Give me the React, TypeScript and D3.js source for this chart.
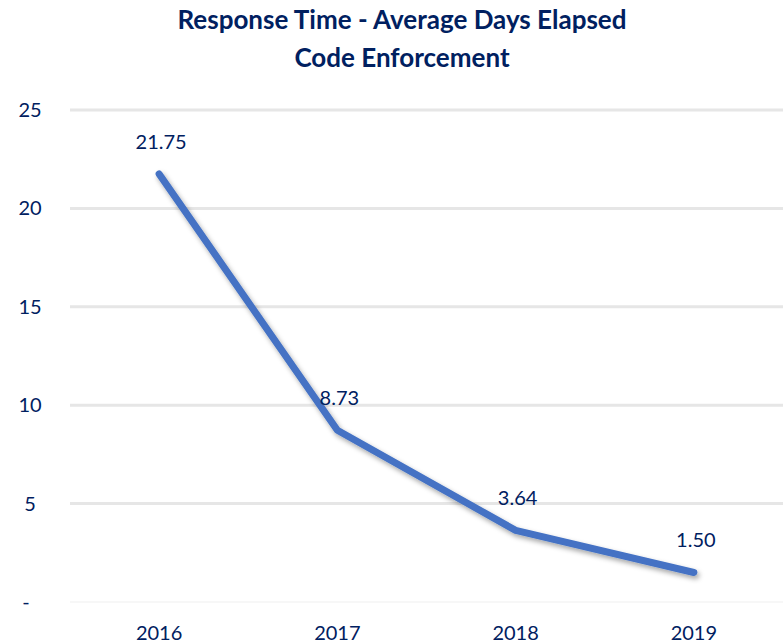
import React from "react";
import * as d3 from "d3";

const years = ["2016", "2017", "2018", "2019"];
const values = [21.75, 8.73, 3.64, 1.5];
const valueLabels = ["21.75", "8.73", "3.64", "1.50"];
const yTicks = [0, 5, 10, 15, 20, 25];
const titleLines = ["Response Time - Average Days Elapsed", "Code Enforcement"];

export default function App() {
  const W = 783, H = 643;
  const left = 70, right = 783, top = 110, bottom = 602;
  const x = d3.scalePoint<string>().domain(years).range([left, right]).padding(0.5);
  const y = d3.scaleLinear().domain([0, 25]).range([bottom, top]);
  const line = d3.line<number>().x((_, i) => x(years[i]) as number).y((d) => y(d));
  const navy = "#002060";
  const font = "Lato, 'Open Sans', sans-serif";
  return (
    <svg width={W} height={H} style={{ position: "absolute", left: 0, top: 0 }} fontFamily={font}>
      <defs>
        <filter id="sh" x="-10%" y="-10%" width="130%" height="130%">
          <feDropShadow dx="2" dy="3" stdDeviation="2.5" floodColor="#000" floodOpacity="0.35" />
        </filter>
      </defs>
      <rect width={W} height={H} fill="#fff" />
      {titleLines.map((t, i) => (
        <text key={t} x={402} y={29 + i * 38} textAnchor="middle" fontSize={26} fontWeight="bold" fill={navy}>
          {t}
        </text>
      ))}
      {yTicks.map((t) => (
        <g key={t}>
          <line x1={left} x2={right} y1={y(t)} y2={y(t)} stroke={t === 0 ? "#f4f4f4" : "#e6e6e6"} strokeWidth={t === 0 ? 1.5 : 3} />
          <text x={t === 0 ? 26 : 30} y={y(t)} dy="0.35em" textAnchor="middle" fontSize={20} fill={navy}>
            {t === 0 ? "-" : t}
          </text>
        </g>
      ))}
      {years.map((yr) => (
        <text key={yr} x={x(yr)} y={640} textAnchor="middle" fontSize={20} fill={navy}>
          {yr}
        </text>
      ))}
      <path d={line(values) as string} fill="none" stroke="#4472C4" strokeWidth={7} strokeLinecap="round" strokeLinejoin="round" filter="url(#sh)" />
      {values.map((v, i) => (
        <text key={i} x={(x(years[i]) as number) + 2} y={y(v) - 32} dy="0.35em" textAnchor="middle" fontSize={20} fill={navy}>
          {valueLabels[i]}
        </text>
      ))}
    </svg>
  );
}
